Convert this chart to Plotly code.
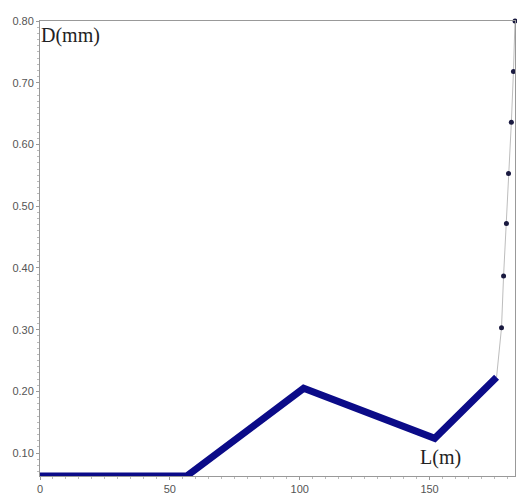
import plotly.graph_objects as go

# Thick blue profile
L_line = [0, 56.5, 101.5, 152, 175.8]
D_line = [0.063, 0.063, 0.205, 0.124, 0.223]

# Thin dotted rise at right end
L_dots = [177.7, 178.5, 179.6, 180.4, 181.5, 182.3, 182.9]
D_dots = [0.303, 0.387, 0.472, 0.553, 0.636, 0.718, 0.800]

x_ticks = [0, 50, 100, 150]
y_ticks = [0.10, 0.20, 0.30, 0.40, 0.50, 0.60, 0.70, 0.80]
y_labels = ["0.10", "0.20", "0.30", "0.40", "0.50", "0.60", "0.70", "0.80"]

fig = go.Figure()
fig.add_trace(go.Scatter(
    x=[L_line[-1]] + L_dots, y=[D_line[-1]] + D_dots, mode="lines",
    line=dict(color="#bdbdbd", width=1), showlegend=False, hoverinfo="skip", cliponaxis=False))
fig.add_trace(go.Scatter(
    x=L_dots, y=D_dots, mode="markers", cliponaxis=False,
    marker=dict(color="#1a1a40", size=5), showlegend=False))
fig.add_trace(go.Scatter(
    x=L_line, y=D_line, mode="lines", cliponaxis=False,
    line=dict(color="#0b0b88", width=7), showlegend=False))

fig.add_annotation(x=0, y=0.80, xref="x", yref="y", text="D(mm)", showarrow=False,
                   xanchor="left", yanchor="top", xshift=-1, yshift=-1,
                   font=dict(family="Liberation Serif, Times New Roman, serif", size=20, color="#222"))
fig.add_annotation(x=154.4, y=0.093, xref="x", yref="y", text="L(m)", showarrow=False,
                   xanchor="center", yanchor="middle",
                   font=dict(family="Liberation Serif, Times New Roman, serif", size=20, color="#222"))

fig.update_layout(
    width=517, height=498,
    margin=dict(l=40, r=2, t=21, b=22),
    paper_bgcolor="white", plot_bgcolor="white",
    font=dict(family="Liberation Sans Narrow, Arial Narrow, Liberation Sans, sans-serif", size=11, color="#555"),
    xaxis=dict(range=[0, 182.9], tickvals=x_ticks, showgrid=False, zeroline=False, automargin=False,
               showline=True, linecolor="#999", linewidth=1, mirror=True,
               ticks="outside", ticklen=3, tickcolor="#999",
               minor=dict(ticks="outside", ticklen=2, tickcolor="#bbb", dtick=5)),
    yaxis=dict(range=[0.063, 0.80], tickvals=y_ticks, ticktext=y_labels, showgrid=False,
               zeroline=False, showline=True, linecolor="#999", linewidth=1, mirror=True, automargin=False,
               ticks="outside", ticklen=3, tickcolor="#999",
               minor=dict(ticks="outside", ticklen=2, tickcolor="#bbb", dtick=0.01)),
)

fig.write_html("out.html", config={"displayModeBar": False},
               post_script="document.body.style.margin='0';document.body.style.overflow='hidden';")
